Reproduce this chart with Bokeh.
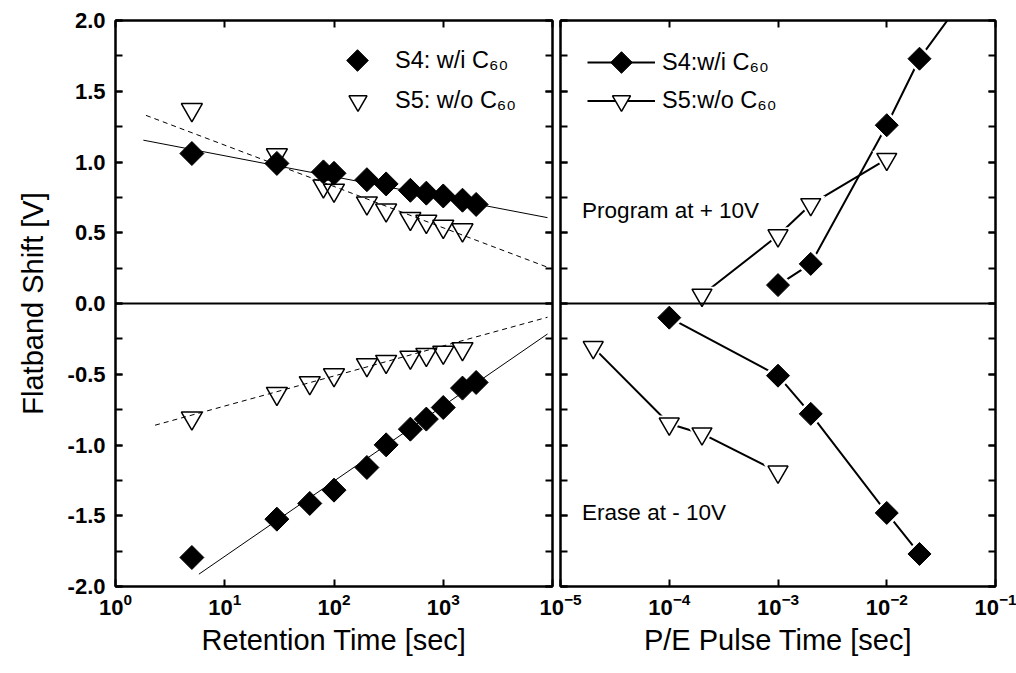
import numpy as np
from bokeh.plotting import figure
from bokeh.models import (Range1d, FixedTicker, SingleIntervalTicker, LinearAxis, LogAxis, ColumnDataSource,
                          PrintfTickFormatter, CustomJSTickFormatter, Span, Label, Legend, LegendItem, Ngon)
from bokeh.layouts import row
from bokeh.embed import file_html
from bokeh.resources import INLINE

FONT = "Liberation Sans"

# ---------------- data: retention (left panel) ----------------
ret_time_s4 = [5, 30, 80, 100, 200, 300, 500, 700, 1000, 1500, 2000]
ret_prog_s4 = [1.06, 0.99, 0.93, 0.92, 0.875, 0.845, 0.80, 0.78, 0.76, 0.73, 0.70]
ret_time_s5 = [5, 30, 80, 100, 200, 300, 500, 700, 1000, 1500]
ret_prog_s5 = [1.37, 1.05, 0.83, 0.80, 0.71, 0.66, 0.60, 0.58, 0.545, 0.52]

ret_time_s4_e = [5, 30, 60, 100, 200, 300, 500, 700, 1000, 1500, 2000]
ret_erase_s4 = [-1.795, -1.524, -1.413, -1.319, -1.159, -0.999, -0.888, -0.817, -0.735, -0.598, -0.558]
ret_time_s5_e = [5, 30, 60, 100, 200, 300, 500, 700, 1000, 1500]
ret_erase_s5 = [-0.81, -0.636, -0.56, -0.504, -0.433, -0.41, -0.38, -0.36, -0.345, -0.32]

# linear-in-log10 fits: (slope per decade, intercept), time span
fit_s4_prog = (-0.148, 1.192); span_s4_prog = [1.8, 9000]
fit_s5_prog = (-0.292, 1.411); span_s5_prog = [1.9, 9000]
fit_s4_erase = (0.532, -2.319); span_s4_erase = [5.8, 9000]
fit_s5_erase = (0.2124, -0.937); span_s5_erase = [2.3, 9000]

# ---------------- data: P/E pulse (right panel) ----------------
pulse_prog_s4 = [1e-3, 2e-3, 1e-2, 2e-2, 5e-2]
prog_s4 = [0.13, 0.28, 1.26, 1.73, 2.15]
pulse_prog_s5 = [2e-4, 1e-3, 2e-3, 1e-2]
prog_s5 = [0.06, 0.48, 0.70, 1.02]
pulse_erase_s4 = [1e-4, 1e-3, 2e-3, 1e-2, 2e-2]
erase_s4 = [-0.10, -0.51, -0.78, -1.48, -1.77]
pulse_erase_s5 = [2e-5, 1e-4, 2e-4, 1e-3]
erase_s5 = [-0.31, -0.85, -0.92, -1.19]

left_ticks = [1, 10, 100, 1000, 10000]
right_ticks = [1e-5, 1e-4, 1e-3, 1e-2, 1e-1]

legend_s4 = "S4: w/i C\u2086\u2080"
legend_s5 = "S5: w/o C\u2086\u2080"
legend_s4_r = "S4:w/i C\u2086\u2080"
legend_s5_r = "S5:w/o C\u2086\u2080"

EMPTY = CustomJSTickFormatter(code="return ''")


def style_axis(ax, labels=True):
    ax.axis_line_color = "black"
    ax.axis_line_width = 2
    ax.major_tick_in = 7
    ax.major_tick_out = 0
    ax.major_tick_line_width = 2
    ax.minor_tick_in = 7
    ax.minor_tick_out = 0
    ax.minor_tick_line_width = 2
    ax.major_label_text_font = FONT
    ax.major_label_text_font_style = "bold"
    ax.major_label_text_font_size = "22px"
    ax.major_label_text_color = "black"
    ax.axis_label_text_font = FONT
    ax.axis_label_text_font_style = "normal"
    ax.axis_label_text_font_size = "29px"
    ax.axis_label_text_color = "black"
    if not labels:
        ax.formatter = EMPTY
        ax.major_label_standoff = 0


def make_fig(xr, width, ml, mr):
    p = figure(width=width, height=673, x_axis_type="log", x_range=xr, y_range=Range1d(-2, 2),
               output_backend="svg", toolbar_location=None,
               min_border_left=ml, min_border_right=mr, min_border_top=20, min_border_bottom=87)
    p.grid.visible = False
    p.outline_line_color = "black"
    p.outline_line_width = 2
    p.background_fill_color = "white"
    return p


def ngon_diamonds(p, xs, ys, radius, fill="black", line="black"):
    src = ColumnDataSource(dict(x=xs, y=ys))
    return p.add_glyph(src, Ngon(x="x", y="y", radius=radius, radius_units="screen", n=4,
                                 fill_color=fill, line_color=line))


def one_legend(label, renderers, loc, gw, gh, standoff):
    return Legend(items=[LegendItem(label=label, renderers=renderers)],
                  location=loc, glyph_width=gw, glyph_height=gh, label_standoff=standoff,
                  spacing=0, padding=0, margin=0, border_line_color=None, background_fill_alpha=0,
                  label_text_font=FONT, label_text_font_size="23.5px", label_text_color="black")


# ================= left panel =================
pa = make_fig(Range1d(1, 1e4), 558, 115, 6)
pa.xaxis.ticker = FixedTicker(ticks=left_ticks, minor_ticks=[])
pa.xaxis.major_label_overrides = {10000: ""}
pa.xaxis.axis_label = "Retention Time [sec]"
pa.yaxis.ticker = SingleIntervalTicker(interval=0.5, num_minor_ticks=2)
pa.yaxis.formatter = PrintfTickFormatter(format="%.1f")
pa.yaxis.axis_label = "Flatband Shift [V]"
style_axis(pa.xaxis[0])
style_axis(pa.yaxis[0])
pa.xaxis.major_label_standoff = 6
pa.xaxis.axis_label_standoff = 6
pa.yaxis.major_label_standoff = 10
pa.yaxis.axis_label_standoff = 16

ax_top = LogAxis(ticker=FixedTicker(ticks=left_ticks, minor_ticks=[]))
style_axis(ax_top, labels=False)
pa.add_layout(ax_top, "above")
ax_right = LinearAxis(ticker=SingleIntervalTicker(interval=0.5, num_minor_ticks=2))
style_axis(ax_right, labels=False)
pa.add_layout(ax_right, "right")

pa.add_layout(Span(location=0, dimension="width", line_color="black", line_width=2))

# fit lines
for coef, span, dash in [(fit_s4_prog, span_s4_prog, "solid"), (fit_s5_prog, span_s5_prog, "5 4"),
                         (fit_s4_erase, span_s4_erase, "solid"), (fit_s5_erase, span_s5_erase, "5 4")]:
    xs = np.array(span, dtype=float)
    ys = coef[0] * np.log10(xs) + coef[1]
    pa.line(xs, ys, line_color="black", line_width=1, line_dash=dash)

r_a_s4 = ngon_diamonds(pa, ret_time_s4, ret_prog_s4, 12)
ngon_diamonds(pa, ret_time_s4_e, ret_erase_s4, 12)
r_a_s5 = pa.scatter(ret_time_s5, ret_prog_s5, marker="inverted_triangle", size=21,
                    fill_color=None, line_color="black", line_width=1.5)
pa.scatter(ret_time_s5_e, ret_erase_s5, marker="inverted_triangle", size=21,
           fill_color=None, line_color="black", line_width=1.5)

pa.add_layout(one_legend(legend_s4, [r_a_s4], (215, 499), 54, 54, 11))
pa.add_layout(one_legend(legend_s5, [r_a_s5], (220, 463), 45, 45, 15))

# ================= right panel =================
pb = make_fig(Range1d(1e-5, 1e-1), 488, 32, 21)
pb.margin = (0, 0, 0, -30)
pb.border_fill_color = None
pb.xaxis.ticker = FixedTicker(ticks=right_ticks, minor_ticks=[])
pb.xaxis.axis_label = "P/E Pulse Time [sec]"
style_axis(pb.xaxis[0])
pb.xaxis.major_label_standoff = 6
pb.xaxis.axis_label_standoff = 6
pb.yaxis.ticker = SingleIntervalTicker(interval=0.5, num_minor_ticks=2)
style_axis(pb.yaxis[0], labels=False)

bx_top = LogAxis(ticker=FixedTicker(ticks=right_ticks, minor_ticks=[]))
style_axis(bx_top, labels=False)
pb.add_layout(bx_top, "above")
bx_right = LinearAxis(ticker=SingleIntervalTicker(interval=0.5, num_minor_ticks=2))
style_axis(bx_right, labels=False)
pb.add_layout(bx_right, "right")

pb.add_layout(Span(location=0, dimension="width", line_color="black", line_width=2))

series = [(pulse_prog_s4, prog_s4, "d"), (pulse_erase_s4, erase_s4, "d"),
          (pulse_prog_s5, prog_s5, "t"), (pulse_erase_s5, erase_s5, "t")]
line_r = {}
for xs, ys, kind in series:
    line_r[id(ys)] = pb.line(xs, ys, line_color="black", line_width=2)
# white halos (gap between connecting line and symbol)
for xs, ys, kind in series:
    if kind == "d":
        ngon_diamonds(pb, xs, ys, 15.5, "white", None)
    else:
        pb.scatter(xs, ys, marker="inverted_triangle", size=29, fill_color="white", line_color=None)
sym_r = {}
for xs, ys, kind in series:
    if kind == "d":
        sym_r[id(ys)] = ngon_diamonds(pb, xs, ys, 11.5)
    else:
        sym_r[id(ys)] = pb.scatter(xs, ys, marker="inverted_triangle", size=20,
                                   fill_color="white", line_color="black", line_width=1.5)

pb.add_layout(one_legend(legend_s4_r, [line_r[id(prog_s4)], sym_r[id(prog_s4)]], (27, 497), 68, 54, 7))
pb.add_layout(one_legend(legend_s5_r, [line_r[id(prog_s5)], sym_r[id(prog_s5)]], (27, 463), 68, 45, 7))

pb.add_layout(Label(x=1.58e-5, y=0.657, text="Program at + 10V", text_baseline="middle",
                    text_font=FONT, text_font_size="22.5px", text_color="black"))
pb.add_layout(Label(x=1.58e-5, y=-1.477, text="Erase at - 10V", text_baseline="middle",
                    text_font=FONT, text_font_size="22.5px", text_color="black"))

layout = row(pa, pb)
open("out.html", "w").write(file_html(layout, INLINE))
